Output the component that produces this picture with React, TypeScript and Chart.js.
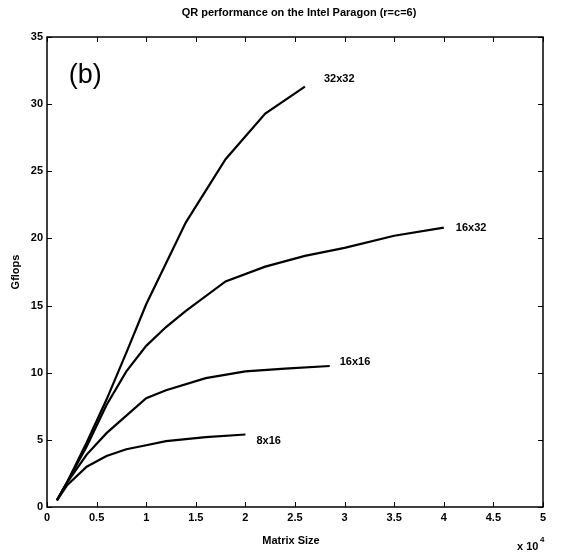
import React, { useEffect, useRef } from "react";
import { Chart, registerables } from "chart.js";

Chart.register(...registerables);

// ---- Data (matrix size in units of 10^4, Gflops) ----
const titleText = "QR performance on the Intel Paragon (r=c=6)";
const xAxisTitle = "Matrix Size";
const yAxisTitle = "Gflops";
const panelLabel = "(b)";

const seriesNames = ["32x32", "16x32", "16x16", "8x16"];

const x32x32 = [0.1, 0.2, 0.4, 0.6, 0.8, 1.0, 1.4, 1.8, 2.2, 2.6];
const y32x32 = [0.5, 1.8, 4.8, 8.0, 11.5, 15.1, 21.2, 25.9, 29.3, 31.3];

const x16x32 = [0.1, 0.2, 0.4, 0.6, 0.8, 1.0, 1.2, 1.4, 1.8, 2.2, 2.6, 3.0, 3.5, 4.0];
const y16x32 = [0.5, 1.8, 4.5, 7.6, 10.1, 12.0, 13.4, 14.6, 16.8, 17.9, 18.7, 19.3, 20.2, 20.8];

const x16x16 = [0.1, 0.2, 0.4, 0.6, 0.8, 1.0, 1.2, 1.6, 2.0, 2.4, 2.85];
const y16x16 = [0.5, 1.8, 3.9, 5.5, 6.8, 8.1, 8.7, 9.6, 10.1, 10.3, 10.5];

const x8x16 = [0.1, 0.2, 0.4, 0.6, 0.8, 1.0, 1.2, 1.6, 2.0];
const y8x16 = [0.5, 1.6, 3.0, 3.8, 4.3, 4.6, 4.9, 5.2, 5.4];

const xTickStep = 0.5;
const xMin = 0;
const xMax = 5;
const yTickStep = 5;
const yMin = 0;
const yMax = 35;

const FONT = "'Liberation Sans', Arial, Helvetica, sans-serif";

const toPoints = (xs: number[], ys: number[]) => xs.map((x, i) => ({ x, y: ys[i] }));

// label offsets from series end point (pixels)
const labelOffsets: [number, number][] = [
  [19, -8],
  [12, 0],
  [10, -4],
  [11, 6],
];

const boxPlugin = {
  id: "matlabBox",
  afterDraw(chart: any) {
    const { ctx, chartArea, scales } = chart;
    const xs = scales.x;
    const ys = scales.y;
    const { left, right, top, bottom } = chartArea;
    ctx.save();
    ctx.strokeStyle = "#000";
    ctx.lineWidth = 1.5;
    ctx.strokeRect(left, top, right - left, bottom - top);
    ctx.lineWidth = 1;
    const tl = 5;
    ctx.beginPath();
    for (let v = xMin; v <= xMax + 1e-9; v += xTickStep) {
      const px = Math.round(xs.getPixelForValue(v)) + 0.5;
      ctx.moveTo(px, bottom);
      ctx.lineTo(px, bottom - tl);
      ctx.moveTo(px, top);
      ctx.lineTo(px, top + tl);
    }
    for (let v = yMin; v <= yMax + 1e-9; v += yTickStep) {
      const py = Math.round(ys.getPixelForValue(v)) + 0.5;
      ctx.moveTo(left, py);
      ctx.lineTo(left + tl, py);
      ctx.moveTo(right, py);
      ctx.lineTo(right - tl, py);
    }
    ctx.stroke();

    ctx.fillStyle = "#000";
    // title
    ctx.font = `bold 11px ${FONT}`;
    ctx.textAlign = "center";
    ctx.textBaseline = "middle";
    ctx.fillText(titleText, (left + right) / 2 + 4, 13);
    // x axis title
    ctx.fillText(xAxisTitle, (left + right) / 2 - 4, 541);
    // x 10^4
    ctx.textAlign = "left";
    ctx.fillText("x 10", right - 26, 547);
    ctx.font = `bold 8px ${FONT}`;
    ctx.fillText("4", right - 3, 540);
    // y axis title
    ctx.save();
    ctx.font = `bold 11px ${FONT}`;
    ctx.translate(16, (top + bottom) / 2);
    ctx.rotate(-Math.PI / 2);
    ctx.textAlign = "center";
    ctx.textBaseline = "middle";
    ctx.fillText(yAxisTitle, 0, 0);
    ctx.restore();

    // panel label
    ctx.font = `27px ${FONT}`;
    ctx.textAlign = "left";
    ctx.textBaseline = "middle";
    ctx.fillText(panelLabel, xs.getPixelForValue(0.22), ys.getPixelForValue(32.1));

    // series labels
    ctx.font = `bold 11px ${FONT}`;
    chart.data.datasets.forEach((ds: any, i: number) => {
      const last = ds.data[ds.data.length - 1];
      const px = xs.getPixelForValue(last.x) + labelOffsets[i][0];
      const py = ys.getPixelForValue(last.y) + labelOffsets[i][1];
      ctx.fillText(seriesNames[i], px, py);
    });
    ctx.restore();
  },
};

export default function App() {
  const ref = useRef<HTMLCanvasElement | null>(null);
  useEffect(() => {
    if (!ref.current) return;
    const allSeries = [
      toPoints(x32x32, y32x32),
      toPoints(x16x32, y16x32),
      toPoints(x16x16, y16x16),
      toPoints(x8x16, y8x16),
    ];
    const chart = new Chart(ref.current, {
      type: "line",
      data: {
        datasets: allSeries.map((d, i) => ({
          label: seriesNames[i],
          data: d,
          borderColor: "#000",
          backgroundColor: "#000",
          borderWidth: 2.2,
          pointRadius: 0,
          tension: 0,
          fill: false,
        })),
      },
      options: {
        animation: false,
        responsive: false,
        devicePixelRatio: 1,
        layout: { padding: { top: 37, right: 24, left: 0, bottom: 0 } },
        plugins: {
          legend: { display: false },
          tooltip: { enabled: false },
          title: { display: false },
        },
        scales: {
          x: {
            type: "linear",
            min: xMin,
            max: xMax,
            ticks: {
              stepSize: xTickStep,
              color: "#000",
              font: { family: FONT, size: 11, weight: "bold" },
              padding: 4,
              maxRotation: 0,
              autoSkip: false,
              callback: (v: any) => String(Math.round(Number(v) * 10) / 10),
            },
            grid: { display: false, drawTicks: false },
            border: { display: false },
            afterFit: (s: any) => {
              s.height = 47;
            },
          },
          y: {
            type: "linear",
            min: yMin,
            max: yMax,
            ticks: {
              stepSize: yTickStep,
              color: "#000",
              font: { family: FONT, size: 11, weight: "bold" },
              padding: 4,
              callback: (v: any) => String(Number(v)),
            },
            grid: { display: false, drawTicks: false },
            border: { display: false },
            afterFit: (s: any) => {
              s.width = 47;
            },
          },
        },
      } as any,
      plugins: [boxPlugin],
    });
    return () => chart.destroy();
  }, []);
  return (
    <div style={{ position: "fixed", left: 0, top: 0, width: 567, height: 554, background: "#fff" }}>
      <canvas ref={ref} width={567} height={554} style={{ display: "block" }} />
    </div>
  );
}
